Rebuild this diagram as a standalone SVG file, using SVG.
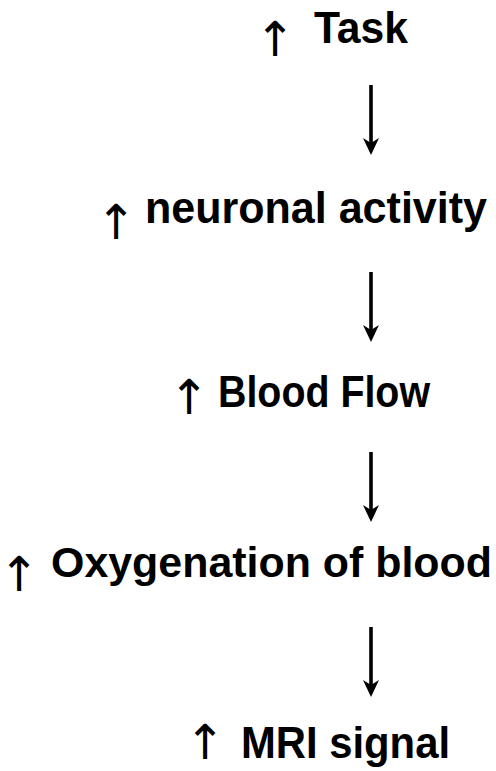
<svg xmlns="http://www.w3.org/2000/svg" width="496" height="771" viewBox="0 0 496 771">
<defs>
<style>
.lbl{font-family:"Liberation Sans",Arial,sans-serif;font-weight:bold;font-size:44px;fill:#000}
.up{font-family:"DejaVu Sans",sans-serif;font-size:48px;fill:#000;text-anchor:middle}
.conn{stroke:#000;stroke-width:3.6;fill:none}
</style>
<marker id="ah" viewBox="0 0 17 16" refX="7" refY="8" markerWidth="17" markerHeight="16" markerUnits="userSpaceOnUse" orient="auto">
<path d="M0,0 L17,8 L0,16 L5,8 z" fill="#000"/>
</marker>
</defs>
<g id="node-task">
<text class="up" x="275" y="56">↑</text>
<text class="lbl" x="314" y="43" textLength="94" lengthAdjust="spacingAndGlyphs">Task</text>
</g>
<g id="node-neuronal">
<text class="up" x="116" y="239">↑</text>
<text class="lbl" x="145" y="223" textLength="342" lengthAdjust="spacingAndGlyphs">neuronal activity</text>
</g>
<g id="node-bloodflow">
<text class="up" x="189" y="414">↑</text>
<text class="lbl" x="218" y="407" textLength="212" lengthAdjust="spacingAndGlyphs">Blood Flow</text>
</g>
<g id="node-oxygenation">
<text class="up" x="19" y="591">↑</text>
<text class="lbl" x="51" y="577" style="font-size:42.5px" textLength="441" lengthAdjust="spacingAndGlyphs">Oxygenation of blood</text>
</g>
<g id="node-mri">
<text class="up" x="205" y="759">↑</text>
<text class="lbl" x="241" y="758" textLength="209" lengthAdjust="spacingAndGlyphs">MRI signal</text>
</g>
<g id="connectors">
<line class="conn" x1="371" y1="85" x2="371" y2="145" marker-end="url(#ah)"/>
<line class="conn" x1="371" y1="272" x2="371" y2="332" marker-end="url(#ah)"/>
<line class="conn" x1="371" y1="452" x2="371" y2="512" marker-end="url(#ah)"/>
<line class="conn" x1="371" y1="627" x2="371" y2="687" marker-end="url(#ah)"/>
</g>
</svg>
